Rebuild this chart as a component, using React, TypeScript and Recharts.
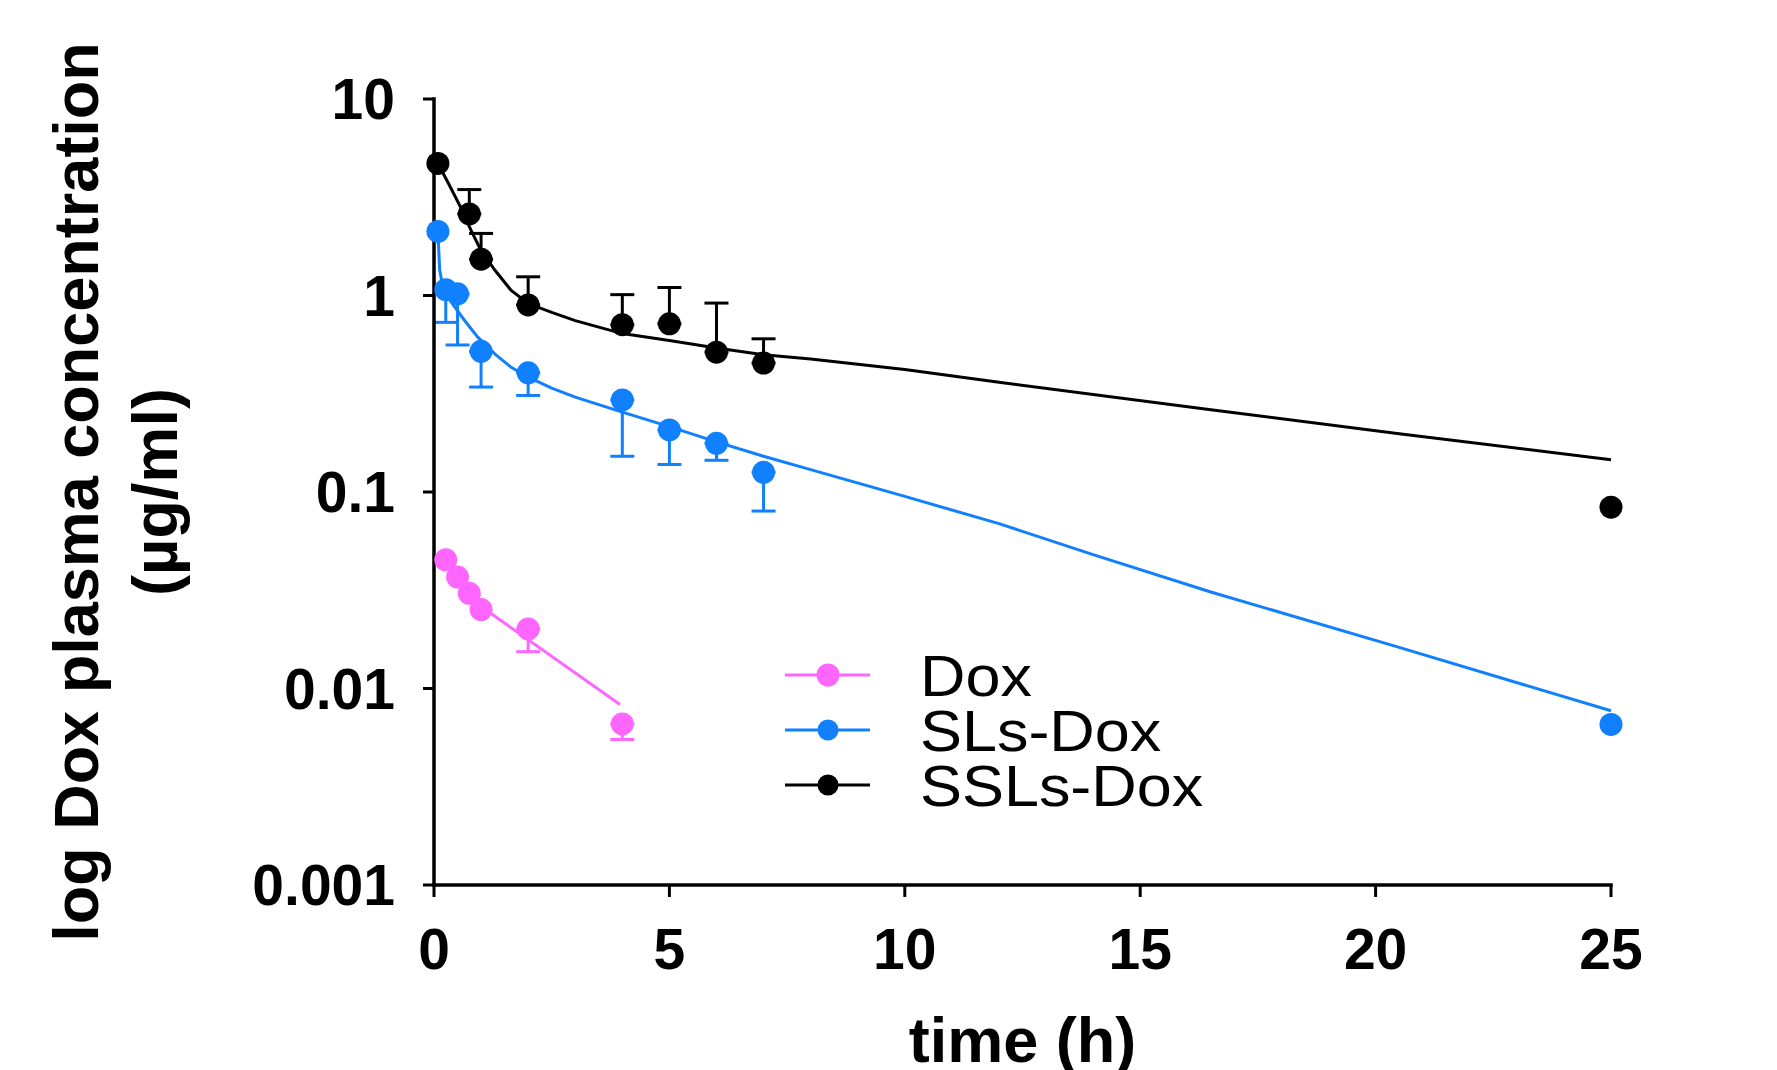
import React from 'react';
import { ComposedChart, Line, Scatter, XAxis, YAxis, ErrorBar, Legend } from 'recharts';

// ---- Data (time in h, concentration in µg/ml) ----
const SERIES_NAMES = ['Dox', 'SLs-Dox', 'SSLs-Dox'];
const SERIES_COLORS = ['#ff66ff', '#1080ff', '#000000'];

const X_TICKS = [0, 5, 10, 15, 20, 25];
const Y_TICKS = [0.001, 0.01, 0.1, 1, 10];

// Dox (free drug) measured points, lower SD
const DOX_T = [0.25, 0.5, 0.75, 1, 2, 4];
const DOX_C = [0.0452, 0.0369, 0.0305, 0.0252, 0.0201, 0.0066];
const DOX_ERR_LOW = [0, 0, 0, 0, 0.0047, 0.0011];

// SLs-Dox measured points, lower SD
const SLS_T = [0.083, 0.25, 0.5, 1, 2, 4, 5, 6, 7, 25];
const SLS_C = [2.12, 1.07, 1.02, 0.52, 0.404, 0.294, 0.207, 0.177, 0.126, 0.00656];
const SLS_ERR_LOW = [0, 0.34, 0.46, 0.178, 0.094, 0.142, 0.069, 0.032, 0.046, 0];

// SSLs-Dox measured points, upper SD
const SSLS_T = [0.083, 0.75, 1, 2, 4, 5, 6, 7, 25];
const SSLS_C = [4.7, 2.6, 1.53, 0.895, 0.71, 0.718, 0.515, 0.453, 0.0837];
const SSLS_ERR_HIGH = [0, 0.86, 0.54, 0.35, 0.3, 0.38, 0.4, 0.149, 0];

// Fitted curves
const DOX_FIT_T = [0.75, 3.95];
const DOX_FIT_C = [0.0288, 0.0083];

const SLS_FIT_T = [0.083, 0.12, 0.18, 0.25, 0.4, 0.65, 0.93, 1.29, 1.64, 2, 2.5, 3, 4, 5, 6, 7, 8, 10, 12, 14, 16.5, 20.5, 25];
const SLS_FIT_C = [2.12, 1.35, 1.13, 1.02, 0.9, 0.746, 0.614, 0.505, 0.431, 0.384, 0.338, 0.304, 0.255, 0.215, 0.18, 0.152, 0.13, 0.095, 0.069, 0.048, 0.031, 0.0162, 0.0077];

const SSLS_FIT_T = [0.083, 0.3, 0.57, 0.79, 1, 1.3, 1.64, 2, 2.5, 3, 4, 5, 6, 7, 8, 10, 12, 16.5, 20.5, 25];
const SSLS_FIT_C = [4.7, 3.75, 2.8, 2.14, 1.69, 1.34, 1.06, 0.91, 0.82, 0.745, 0.64, 0.59, 0.54, 0.5, 0.475, 0.42, 0.362, 0.262, 0.198, 0.146];

// ---- Tables built from the arrays ----
const points = (t: number[], c: number[], lo: number[], hi: number[]) =>
  t.map((x, i) => ({ t: x, c: c[i], err: lo[i] === 0 && hi[i] === 0 ? undefined : [lo[i], hi[i]] }));
const curve = (t: number[], c: number[]) => t.map((x, i) => ({ t: x, c: c[i] }));

const zeros = (n: number) => new Array(n).fill(0);

const doxPts = points(DOX_T, DOX_C, DOX_ERR_LOW, zeros(DOX_T.length));
const slsPts = points(SLS_T, SLS_C, SLS_ERR_LOW, zeros(SLS_T.length));
const sslsPts = points(SSLS_T, SSLS_C, zeros(SSLS_T.length), SSLS_ERR_HIGH);

const doxFit = curve(DOX_FIT_T, DOX_FIT_C);
const slsFit = curve(SLS_FIT_T, SLS_FIT_C);
const sslsFit = curve(SSLS_FIT_T, SSLS_FIT_C);

const FONT = '"Liberation Sans", Arial, Helvetica, sans-serif';

const dotShape = (color: string) => (p: any) => (
  <circle cx={p.cx} cy={p.cy} r={11.5} fill={color} />
);

const YLabel = (props: any) => {
  const vb = props.viewBox || { x: 234, y: 99, width: 200, height: 786 };
  const cy = vb.y + vb.height / 2;
  const x1 = 98;
  const x2 = 177;
  return (
    <g>
      <text x={x1} y={cy} transform={`rotate(-90, ${x1}, ${cy})`} textAnchor="middle"
        fontFamily={FONT} fontWeight="bold" fontSize={63} fill="#000">
        log Dox plasma concentration
      </text>
      <text x={x2} y={cy} transform={`rotate(-90, ${x2}, ${cy})`} textAnchor="middle"
        fontFamily={FONT} fontWeight="bold" fontSize={63} fill="#000">
        (µg/ml)
      </text>
    </g>
  );
};

const XLabel = (props: any) => {
  const vb = props.viewBox || { x: 434, y: 885, width: 1177, height: 150 };
  return (
    <text x={vb.x + vb.width / 2} y={vb.y + 177} textAnchor="middle"
      fontFamily={FONT} fontWeight="bold" fontSize={63} fill="#000">
      time (h)
    </text>
  );
};

const LegendContent = () => (
  <svg width={470} height={190} style={{ overflow: 'visible' }}>
    {SERIES_NAMES.map((name, i) => {
      const y = 35 + i * 55;
      return (
        <g key={name}>
          <line x1={5} x2={90} y1={y} y2={y} stroke={SERIES_COLORS[i]} strokeWidth={3} />
          <circle cx={48} cy={y} r={i === 0 ? 11.5 : 10.5} fill={SERIES_COLORS[i]} />
          <text transform={`translate(140, ${y + 21}) scale(1.085, 1)`} x={0} y={0}
            fontFamily={FONT} fontSize={58} fill="#000">{name}</text>
        </g>
      );
    })}
  </svg>
);

export default function App() {
  return (
    <div style={{ position: 'absolute', left: 0, top: 0, width: 1777, height: 1070, background: '#fff', fontFamily: FONT }}>
      <ComposedChart width={1777} height={1070} margin={{ top: 99, right: 166, bottom: 35, left: 234 }}>
        <XAxis
          type="number"
          dataKey="t"
          domain={[0, 25]}
          ticks={X_TICKS}
          interval={0}
          height={150}
          tickSize={12}
          tickMargin={32}
          axisLine={{ stroke: '#000', strokeWidth: 3.5, strokeLinecap: 'square' }}
          tickLine={{ stroke: '#000', strokeWidth: 3 }}
          tick={{ fontSize: 57, fontWeight: 'bold', fill: '#000', fontFamily: FONT }}
          label={<XLabel />}
        />
        <YAxis
          type="number"
          scale="log"
          domain={[0.001, 10]}
          ticks={Y_TICKS}
          interval={0}
          width={200}
          tickSize={11}
          tickMargin={28}
          tickFormatter={(v: number) => String(v)}
          axisLine={{ stroke: '#000', strokeWidth: 3.5, strokeLinecap: 'square' }}
          tickLine={{ stroke: '#000', strokeWidth: 3 }}
          tick={{ fontSize: 57, fontWeight: 'bold', fill: '#000', fontFamily: FONT }}
          label={<YLabel />}
        />
        <Line data={doxFit} dataKey="c" type="linear" stroke={SERIES_COLORS[0]} strokeWidth={3}
          dot={false} activeDot={false} isAnimationActive={false} legendType="none" />
        <Line data={slsFit} dataKey="c" type="linear" stroke={SERIES_COLORS[1]} strokeWidth={3}
          dot={false} activeDot={false} isAnimationActive={false} legendType="none" />
        <Line data={sslsFit} dataKey="c" type="linear" stroke={SERIES_COLORS[2]} strokeWidth={3}
          dot={false} activeDot={false} isAnimationActive={false} legendType="none" />
        <Scatter data={doxPts} dataKey="c" name={SERIES_NAMES[0]} fill={SERIES_COLORS[0]}
          shape={dotShape(SERIES_COLORS[0])} isAnimationActive={false}>
          <ErrorBar dataKey="err" direction="y" width={12} stroke={SERIES_COLORS[0]} strokeWidth={3} isAnimationActive={false} />
        </Scatter>
        <Scatter data={slsPts} dataKey="c" name={SERIES_NAMES[1]} fill={SERIES_COLORS[1]}
          shape={dotShape(SERIES_COLORS[1])} isAnimationActive={false}>
          <ErrorBar dataKey="err" direction="y" width={12} stroke={SERIES_COLORS[1]} strokeWidth={3} isAnimationActive={false} />
        </Scatter>
        <Scatter data={sslsPts} dataKey="c" name={SERIES_NAMES[2]} fill={SERIES_COLORS[2]}
          shape={dotShape(SERIES_COLORS[2])} isAnimationActive={false}>
          <ErrorBar dataKey="err" direction="y" width={12} stroke={SERIES_COLORS[2]} strokeWidth={3} isAnimationActive={false} />
        </Scatter>
        <Legend
          layout="vertical"
          align="center"
          verticalAlign="middle"
          content={<LegendContent />}
          wrapperStyle={{ left: 780, top: 640, width: 470, height: 190 }}
        />
      </ComposedChart>
    </div>
  );
}
